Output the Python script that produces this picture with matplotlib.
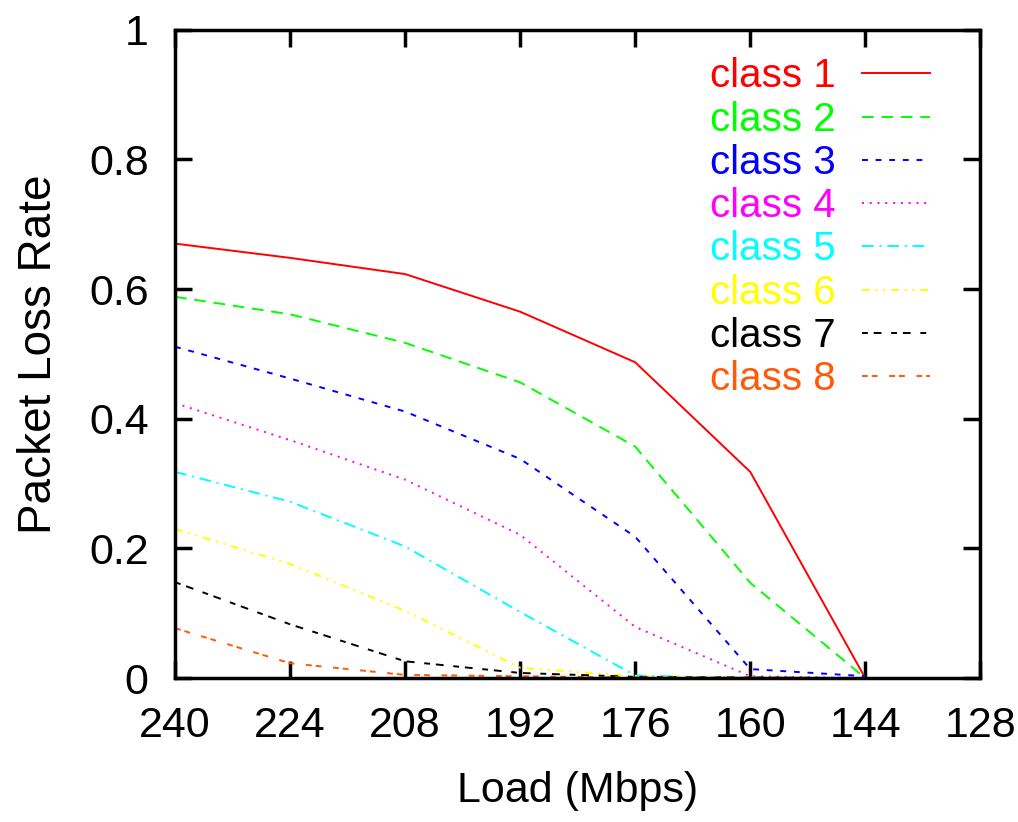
import matplotlib
matplotlib.use('Agg')
import matplotlib.pyplot as plt

plt.rcParams['font.family'] = ['Liberation Sans', 'DejaVu Sans']

# Load values (Mbps), axis runs from 240 down to 128
load = [240, 224, 208, 192, 176, 160, 144]
x_ticks = [240, 224, 208, 192, 176, 160, 144, 128]

class1 = [0.670, 0.648, 0.623, 0.565, 0.487, 0.318, 0.0]
class2 = [0.588, 0.561, 0.517, 0.456, 0.357, 0.147, 0.0]
class3 = [0.511, 0.462, 0.411, 0.338, 0.218, 0.014, 0.003]
class4 = [0.424, 0.367, 0.306, 0.221, 0.079, 0.003, 0.0]
class5 = [0.318, 0.272, 0.203, 0.102, 0.004, 0.0, 0.0]
class6 = [0.230, 0.176, 0.104, 0.016, 0.003, 0.001, 0.0]
class7 = [0.148, 0.083, 0.026, 0.008, 0.002, 0.001, 0.0]
class8 = [0.077, 0.023, 0.005, 0.003, 0.001, 0.001, 0.0]

series = [class1, class2, class3, class4, class5, class6, class7, class8]
labels = ['class 1', 'class 2', 'class 3', 'class 4',
          'class 5', 'class 6', 'class 7', 'class 8']
colors = ['#ff0000', '#00ff00', '#0000ff', '#ff00ff',
          '#00ffff', '#ffff00', '#000000', '#ff5a0a']
styles = ['-', (0, (6, 4)), (0, (3, 4)), (0, (1, 3)),
          (0, (6, 3, 1, 3)), (0, (4, 3, 1, 3, 1, 3)), (0, (3, 3, 4, 5)), (0, (3, 2, 3, 6))]

fig = plt.figure(figsize=(10.18, 8.22), dpi=100)
ax = fig.add_axes([0.172, 0.175, 0.791, 0.789])

for vals, lab, col, ls in zip(series, labels, colors, styles):
    ax.plot(load, vals, color=col, linestyle=ls, linewidth=1.4, label=lab)

ax.set_xlim(240, 128)
ax.set_ylim(0, 1)
ax.set_xticks(x_ticks)
ax.set_yticks([0, 0.2, 0.4, 0.6, 0.8, 1])
ax.set_yticklabels(['0', '0.2', '0.4', '0.6', '0.8', '1'])

for s in ax.spines.values():
    s.set_linewidth(2.5)
ax.tick_params(direction='in', length=12, width=2.5, top=True, right=True,
               labelsize=31)
ax.tick_params(axis='x', pad=20)
ax.tick_params(axis='y', pad=19)

ax.set_xlabel('Load (Mbps)', fontsize=31, labelpad=18)
ax.set_ylabel('Packet Loss Rate', fontsize=33, labelpad=20)

leg = ax.legend(loc='upper right', bbox_to_anchor=(0.938, 0.957), frameon=False,
                markerfirst=False, labelcolor='linecolor', fontsize=29,
                handlelength=1.7, handletextpad=0.65, labelspacing=0.13,
                borderpad=0, borderaxespad=0)

plt.savefig('out.png', dpi=100)
